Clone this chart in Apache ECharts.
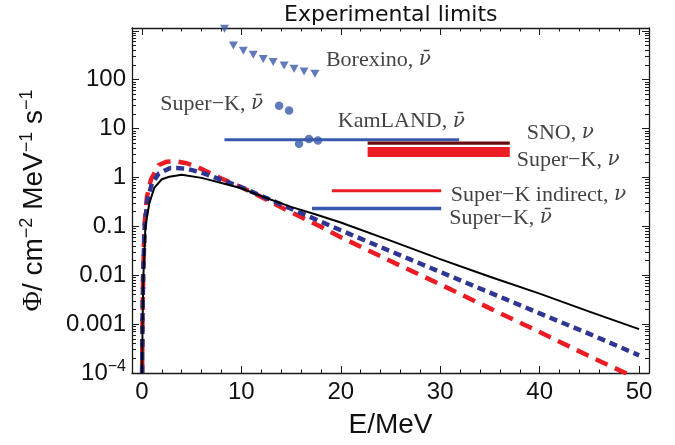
<!DOCTYPE html>
<html>
<head>
<meta charset="utf-8">
<script src="https://cdn.jsdelivr.net/npm/echarts@6/dist/echarts.min.js"></script>
<style>
html, body { margin: 0; padding: 0; background: #fff; }
#chart { width: 675px; height: 445px; }
</style>
</head>
<body>
<div id="chart"></div>
<script>
// spectra (E in MeV, flux in cm^-2 MeV^-1 s^-1)
const blackE    = [0.02, 0.06, 0.15, 0.35, 0.75, 1.25, 2.0, 2.75, 4.0, 6.0, 8.0, 10, 12.5, 15, 17.5, 20, 25, 30, 35, 40, 45, 50];
const blackFlux = [1e-4, 1e-3, 0.01, 0.1, 0.3, 0.62, 0.92, 1.03, 1.13, 0.98, 0.77, 0.6, 0.38, 0.25, 0.175, 0.12, 0.051, 0.0214, 0.0093, 0.0042, 0.0018, 7.9e-4];

const blueE    = [0.02, 0.05, 0.12, 0.28, 0.55, 1.0, 1.7, 2.8, 3.5, 4.5, 6.0, 8.0, 10, 12.5, 15, 17.5, 20, 25, 30, 35, 40, 45, 50];
const blueFlux = [1e-4, 1e-3, 0.01, 0.1, 0.35, 0.75, 1.2, 1.55, 1.56, 1.5, 1.26, 0.89, 0.63, 0.38, 0.229, 0.138, 0.083, 0.031, 0.0117, 0.0044, 0.00166, 6.3e-4, 2.3e-4];

const redE    = [0.02, 0.05, 0.12, 0.25, 0.5, 0.9, 1.7, 2.5, 3.4, 4.5, 5.8, 8.0, 10, 12, 14, 16, 18, 20, 25, 30, 35, 40, 45, 50];
const redFlux = [1e-4, 1e-3, 0.01, 0.1, 0.4, 0.9, 1.8, 2.1, 2.15, 1.95, 1.55, 0.95, 0.63, 0.4, 0.245, 0.155, 0.098, 0.06, 0.0195, 0.0065, 0.0021, 6.9e-4, 2.2e-4, 7.4e-5];

// experimental limits
const borexinoE     = [8.3, 9.2, 10.2, 11.2, 12.2, 13.2, 14.3, 15.3, 16.3, 17.4];
const borexinoLimit = [1100, 500, 390, 323, 265, 229, 195, 167, 147, 132];
const superKDotE     = [13.8, 14.8, 15.8, 16.8, 17.7];
const superKDotLimit = [29.3, 23.5, 4.9, 6.1, 5.7];

const kamlandE = [8.3, 31.9],  kamlandLimit = 5.9;
const snoE = [22.7, 37.0],     snoLimit = 5.05;
const superKNuE = [22.7, 37.0], superKNuLimit = 3.3;
const skIndirectE = [19.1, 30.1], skIndirectLimit = 0.535;
const skAntiE = [17.1, 30.1],  skAntiLimit = 0.232;

// ticks
const xMajor = [0, 10, 20, 30, 40, 50];
const xMinor = [0, 2, 4, 6, 8, 10, 12, 14, 16, 18, 20, 22, 24, 26, 28, 30, 32, 34, 36, 38, 40, 42, 44, 46, 48, 50];
const yMajor = [1e-4, 0.001, 0.01, 0.1, 1, 10, 100, 1000];
const yLabels = ['10^-4', '0.001', '0.01', '0.1', '1', '10', '100', ''];

// annotation texts
const noteText = ['Borexino, ', 'Super−K, ', 'KamLAND, ', 'SNO, ', 'Super−K, ', 'Super−K indirect, ', 'Super−K, '];
const noteNu   = ['ν̄', 'ν̄', 'ν̄', 'ν', 'ν', 'ν', 'ν̄'];

const SANS = '"Liberation Sans", Arial, sans-serif';
const SERIF = '"Liberation Serif", "Times New Roman", serif';
const BLUE = '#3859ab';
const NAVY = '#2e3594';
const RED = '#ec1c24';
const MAROON = '#6a0c12';
const AX = '#1a1a1a';

// label anchors (data coords, left edge / vertical middle)
const noteAt = [[18.5, 255], [1.85, 32], [19.7, 14], [38.7, 8.2], [37.7, 2.3], [31.05, 0.443], [30.9, 0.148]];

const yMinor = [];
for (let d = -4; d <= 2; d++) {
  for (let k = 2; k <= 9; k++) yMinor.push(k * Math.pow(10, d));
}

const pairs = (xs, ys) => xs.map((x, i) => [x, ys[i]]);

function xAxisDef(position, values, len, main) {
  return {
    type: 'value', position: position, min: -1, max: 51,
    axisLine: { show: main, onZero: false, lineStyle: { color: AX, width: 1.3 } },
    axisTick: { show: true, inside: true, length: len, customValues: values, lineStyle: { color: AX, width: 1 } },
    axisLabel: { show: false },
    splitLine: { show: false },
  };
}

function yAxisDef(position, values, len, main) {
  return {
    type: 'log', logBase: 10, position: position, min: 1e-4, max: 1140,
    axisLine: { show: main, onZero: false, lineStyle: { color: AX, width: 1.3 } },
    axisTick: { show: true, inside: true, length: len, customValues: values, lineStyle: { color: AX, width: 1 } },
    axisLabel: { show: false },
    splitLine: { show: false },
    minorTick: { show: false },
  };
}

const xBottom = xAxisDef('bottom', xMajor, 7, true);
xBottom.axisLabel = {
  show: true, customValues: xMajor, margin: 7,
  fontSize: 24, color: '#111', fontFamily: SANS,
};
xBottom.name = 'E/MeV';
xBottom.nameLocation = 'middle';
xBottom.nameGap = 38;
xBottom.nameTextStyle = { fontSize: 28, color: '#111', fontFamily: SANS };

const yLeft = yAxisDef('left', yMajor, 7, true);
yLeft.axisLabel = {
  show: true, customValues: yMajor.slice(0, 7), margin: 6,
  formatter: function (v) {
    const i = yMajor.findIndex(t => Math.abs(Math.log10(t) - Math.log10(v)) < 1e-6);
    if (i < 0) return '';
    const s = yLabels[i];
    if (s.indexOf('^') >= 0) {
      const parts = s.split('^');
      return '{b|' + parts[0] + '}{s|' + parts[1].replace('-', '−') + '}';
    }
    return '{b|' + s + '}';
  },
  rich: {
    b: { fontSize: 24, lineHeight: 28, color: '#111', fontFamily: SANS },
    s: { fontSize: 16, lineHeight: 16, verticalAlign: 'top', color: '#111', fontFamily: SANS },
  },
};
yLeft.name = '{p|Φ}{n|/ cm}{s|−2}{n| MeV}{s|−1}{n| s}{s|−1}';
yLeft.nameLocation = 'middle';
yLeft.nameRotate = 90;
yLeft.nameGap = 82;
yLeft.nameTextStyle = {
  rich: {
    p: { fontSize: 28, lineHeight: 32, color: '#111', fontFamily: SERIF },
    n: { fontSize: 28, lineHeight: 32, color: '#111', fontFamily: SANS },
    s: { fontSize: 18, lineHeight: 18, verticalAlign: 'top', color: '#111', fontFamily: SANS },
  },
};

function curve(name, xs, ys, color, dash) {
  return {
    name: name, type: 'line', data: pairs(xs, ys),
    symbol: 'none', smooth: false, silent: true,
    lineStyle: { color: color, width: dash ? 4.5 : 2, type: dash || 'solid', cap: 'butt', join: 'round' },
  };
}

function limitLine(name, xs, y, color, width) {
  return {
    name: name, type: 'line', data: xs.map(x => [x, y]),
    symbol: 'none', silent: true, z: 3,
    lineStyle: { color: color, width: width, cap: 'butt' },
  };
}

const chart = echarts.init(document.getElementById('chart'));

chart.setOption({
  animation: false,
  backgroundColor: '#fff',
  title: {
    text: 'Experimental limits', left: 279, top: -1,
    textStyle: { fontSize: 22, fontWeight: 'normal', color: '#111', fontFamily: '"DejaVu Sans", sans-serif' },
  },
  grid: { left: 132, right: 26, top: 28, bottom: 72 },
  xAxis: [
    xBottom,
    xAxisDef('bottom', xMinor, 3.5, false),
    xAxisDef('top', xMajor, 7, true),
    xAxisDef('top', xMinor, 3.5, false),
  ],
  yAxis: [
    yLeft,
    yAxisDef('left', yMinor, 4, false),
    yAxisDef('right', yMajor, 7, true),
    yAxisDef('right', yMinor, 4, false),
  ],
  series: [
    curve('red', redE, redFlux, RED, [13, 8]),
    curve('blue', blueE, blueFlux, NAVY, [8, 5]),
    curve('black', blackE, blackFlux, '#000', null),
    limitLine('KamLAND', kamlandE, kamlandLimit, BLUE, 3),
    limitLine('SNO', snoE, snoLimit, MAROON, 3.2),
    limitLine('Super-K nu', superKNuE, superKNuLimit, RED, 10),
    limitLine('Super-K indirect', skIndirectE, skIndirectLimit, RED, 3),
    limitLine('Super-K antinu', skAntiE, skAntiLimit, BLUE, 3.5),
    {
      name: 'Borexino', type: 'scatter', data: pairs(borexinoE, borexinoLimit),
      symbol: 'triangle', symbolRotate: 180, symbolSize: [9, 8], silent: true, z: 4,
      itemStyle: { color: BLUE },
    },
    {
      name: 'Super-K', type: 'scatter', data: pairs(superKDotE, superKDotLimit),
      symbol: 'circle', symbolSize: 8.5, silent: true, z: 4,
      itemStyle: { color: BLUE },
    },
    {
      name: 'notes', type: 'scatter', data: noteAt,
      symbolSize: 0, silent: true, z: 5,
      label: {
        show: true, position: 'right', distance: 0,
        formatter: p => '{t|' + noteText[p.dataIndex] + '}{v|' + noteNu[p.dataIndex] + '}',
        rich: {
          t: { fontSize: 22, color: '#111', fontFamily: SERIF },
          v: { fontSize: 20, color: '#111', fontFamily: '"DejaVu Serif", serif', fontStyle: 'italic' },
        },
      },
    },
  ],
});
</script>
</body>
</html>
